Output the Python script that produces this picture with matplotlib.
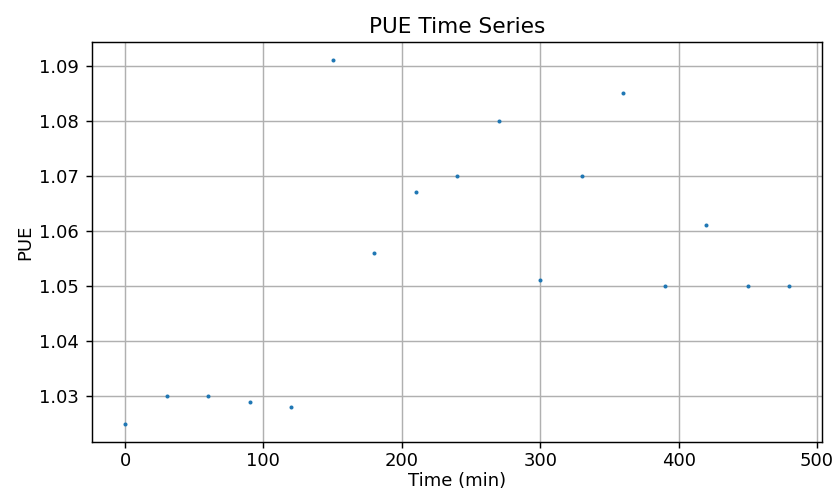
import matplotlib
matplotlib.use("Agg")
import matplotlib.pyplot as plt

# PUE samples every 30 minutes
time_min = [0, 30, 60, 90, 120, 150, 180, 210, 240, 270, 300, 330, 360, 390, 420, 450, 480]
pue = [1.025, 1.030, 1.030, 1.029, 1.028, 1.091, 1.056, 1.067, 1.070, 1.080,
       1.051, 1.070, 1.085, 1.050, 1.061, 1.050, 1.050]

fig, ax = plt.subplots(figsize=(835 / 130, 492 / 130), dpi=130)
ax.scatter(time_min, pue, s=5, linewidths=0, zorder=3)
ax.set_title("PUE Time Series", pad=5)
ax.set_xlabel("Time (min)", labelpad=1)
ax.set_ylabel("PUE", labelpad=3)
ax.tick_params(axis="x", pad=2)
ax.grid(True)
fig.subplots_adjust(left=0.11, right=0.985, top=0.915, bottom=0.102)
fig.savefig("out.png", dpi=130)
